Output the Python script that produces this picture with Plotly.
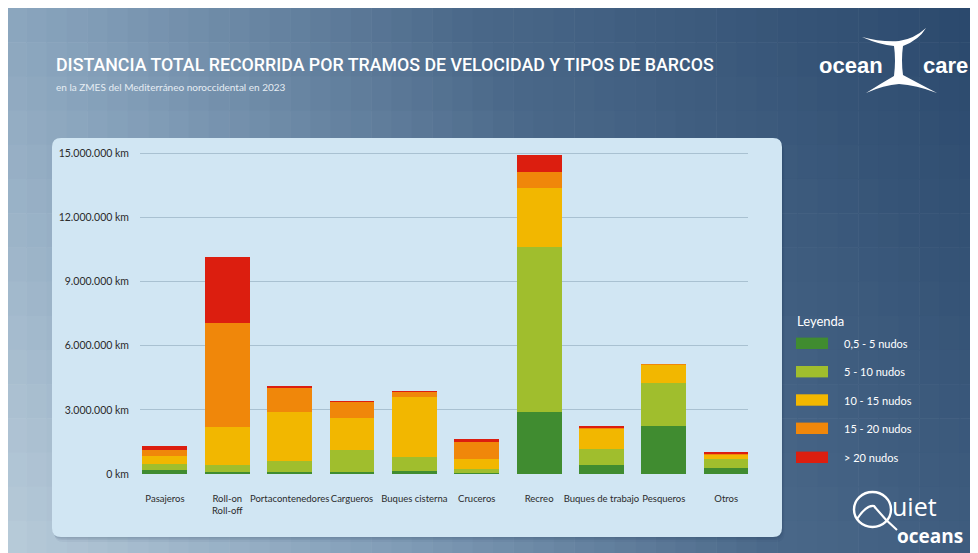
import plotly.graph_objects as go

# ---------------- data ----------------
categories = ["Pasajeros", "Roll-on<br>Roll-off", "Portacontenedores", "Cargueros",
              "Buques cisterna", "Cruceros", "Recreo", "Buques de trabajo",
              "Pesqueros", "Otros"]
v_05_5 = [170000, 80000, 90000, 80000, 140000, 50000, 2900000, 430000, 2260000, 260000]
v_5_10 = [300000, 360000, 530000, 1060000, 650000, 190000, 7710000, 750000, 2000000, 450000]
v_10_15 = [390000, 1740000, 2280000, 1480000, 2830000, 480000, 2760000, 930000, 860000, 200000]
v_15_20 = [250000, 4880000, 1140000, 760000, 220000, 760000, 760000, 60000, 10000, 50000]
v_20 = [220000, 3110000, 80000, 30000, 10000, 160000, 790000, 40000, 0, 90000]
series_names = ["0,5 - 5 nudos", "5 - 10 nudos", "10 - 15 nudos", "15 - 20 nudos", "> 20 nudos"]
series_colors = ["#408c30", "#a0be2d", "#f2b700", "#f0870a", "#dc1e0f"]
y_tickvals = [0, 3000000, 6000000, 9000000, 12000000, 15000000]
y_ticktext = ["0 km", "3.000.000 km", "6.000.000 km", "9.000.000 km", "12.000.000 km", "15.000.000 km"]

# ---------------- geometry helpers (page pixel coords -> paper) ----------------
OFF = 8  # body margin of the page
W, H = 970, 545
ML, MR, MT, MB = 132, 230, 142, 79
PW = W - ML - MR
PH = H - MT - MB


def px(x):
    return (x - OFF - ML) / PW


def py(y):
    return (H - MB - (y - OFF)) / PH


def P(points, close=True):
    s = ""
    for p in points:
        cmd = p[0]
        coords = p[1:]
        parts = []
        for k in range(0, len(coords), 2):
            parts.append("%.5f,%.5f" % (px(coords[k]), py(coords[k + 1])))
        s += cmd + " " + " ".join(parts) + " "
    return s + ("Z" if close else "")


fig = go.Figure()
series = [v_05_5, v_5_10, v_10_15, v_15_20, v_20]
for name, vals, col in zip(series_names, series, series_colors):
    fig.add_trace(go.Bar(x=categories, y=vals, name=name, marker_color=col,
                         marker_line_width=0, showlegend=False,
                         hovertemplate="%{x}<br>" + name + ": %{y:,.0f} km<extra></extra>"))

shapes = []

# gradient background (diagonal: light bottom-left -> dark top-right)
stops = [(0.0, (185, 204, 218)), (0.3, (130, 158, 184)), (0.6, (74, 104, 137)), (1.0, (42, 72, 108))]


def grad(t):
    t = max(0.0, min(1.0, t))
    for (t0, c0), (t1, c1) in zip(stops[:-1], stops[1:]):
        if t <= t1:
            f = (t - t0) / (t1 - t0)
            return "rgb(%d,%d,%d)" % tuple(round(a + (b - a) * f) for a, b in zip(c0, c1))
    return "rgb(%d,%d,%d)" % stops[-1][1]


BX0, BY0, BX1, BY1 = 6, 8, 980, 555
NC, NR = 48, 16
for i in range(NC):
    for j in range(NR):
        x0 = BX0 + (BX1 - BX0) * i / NC
        x1 = BX0 + (BX1 - BX0) * (i + 1) / NC
        y0 = BY0 + (BY1 - BY0) * j / NR
        y1 = BY0 + (BY1 - BY0) * (j + 1) / NR
        xc = (x0 + x1) / 2
        yc = (y0 + y1) / 2
        t = 0.75 * (xc - BX0) / (BX1 - BX0) + 0.25 * (BY1 - yc) / (BY1 - BY0)
        shapes.append(dict(type="rect", xref="paper", yref="paper", layer="below",
                           x0=px(x0), x1=px(x1 + 0.6), y0=py(y1 + 0.6), y1=py(y0),
                           fillcolor=grad(t), line_width=0))


def rounded(x0, y0, x1, y1, r):
    return P([("M", x0 + r, y0), ("L", x1 - r, y0), ("Q", x1, y0, x1, y0 + r),
              ("L", x1, y1 - r), ("Q", x1, y1, x1 - r, y1), ("L", x0 + r, y1),
              ("Q", x0, y1, x0, y1 - r), ("L", x0, y0 + r), ("Q", x0, y0, x0 + r, y0)])


# panel shadow + panel
for off, alpha in [(5, 0.05), (3, 0.07), (1.5, 0.09)]:
    shapes.append(dict(type="path", xref="paper", yref="paper", layer="below",
                       path=rounded(52 + off * 0.5, 138 + off, 782 + off * 0.5, 537 + off, 9),
                       fillcolor="rgba(20,40,70,%.2f)" % alpha, line_width=0))
shapes.append(dict(type="path", xref="paper", yref="paper", layer="below",
                   path=rounded(52, 138, 782, 537, 9),
                   fillcolor="#d1e6f3", line_width=0))

# legend swatches
leg_y = [343.3, 371.7, 400, 428.3, 457.3]
for yy, col in zip(leg_y, series_colors):
    shapes.append(dict(type="rect", xref="paper", yref="paper",
                       x0=px(796), x1=px(828), y0=py(yy + 5.7), y1=py(yy - 5.7),
                       fillcolor=col, line_width=0))

# ocean care tail logo
tail = P([("M", 862, 37), ("Q", 880, 45, 894, 46), ("Q", 896, 60, 894, 76),
          ("Q", 880, 84, 866, 93), ("Q", 884, 85, 899, 84), ("Q", 916, 85, 937, 93),
          ("Q", 916, 82, 903, 75), ("Q", 901, 60, 903, 46), ("Q", 919, 40, 926, 28),
          ("Q", 914, 39, 899, 41), ("Q", 880, 42, 862, 37)])
shapes.append(dict(type="path", xref="paper", yref="paper", path=tail,
                   fillcolor="white", line_width=0))

# quiet oceans logo
shapes.append(dict(type="circle", xref="paper", yref="paper",
                   x0=px(854), x1=px(891), y0=py(527), y1=py(492),
                   line=dict(color="white", width=2.4), fillcolor="rgba(0,0,0,0)"))
shapes.append(dict(type="path", xref="paper", yref="paper",
                   path=P([("M", 857, 519), ("Q", 866, 505, 874, 506),
                           ("Q", 884, 519, 897, 530)], close=False),
                   line=dict(color="white", width=2.2)))

annotations = []
annotations.append(dict(text="DISTANCIA TOTAL RECORRIDA POR TRAMOS DE VELOCIDAD Y TIPOS DE BARCOS",
                        x=px(54), y=py(65), xref="paper", yref="paper", xanchor="left",
                        yanchor="middle", showarrow=False,
                        font=dict(family="Roboto", size=17.8, color="white", weight=500)))
annotations.append(dict(text="en la ZMES del Mediterráneo noroccidental en 2023",
                        x=px(54), y=py(87), xref="paper", yref="paper", xanchor="left",
                        yanchor="middle", showarrow=False,
                        font=dict(family="Lato", size=10, color="#e6edf3")))
annotations.append(dict(text="Leyenda", x=px(795), y=py(321), xref="paper", yref="paper",
                        xanchor="left", yanchor="middle", showarrow=False,
                        font=dict(family="Lato", size=13, color="white")))
for yy, name in zip(leg_y, series_names):
    annotations.append(dict(text=name, x=px(842), y=py(yy), xref="paper", yref="paper",
                            xanchor="left", yanchor="middle", showarrow=False,
                            font=dict(family="Lato", size=11, color="white")))
annotations.append(dict(text="ocean", x=px(817), y=py(66), xref="paper", yref="paper",
                        xanchor="left", yanchor="middle", showarrow=False,
                        font=dict(family="Liberation Sans", size=22, color="white", weight="bold")))
annotations.append(dict(text="care", x=px(921), y=py(66), xref="paper", yref="paper",
                        xanchor="left", yanchor="middle", showarrow=False,
                        font=dict(family="Liberation Sans", size=22, color="white", weight="bold")))
annotations.append(dict(text="uiet", x=px(890), y=py(506), xref="paper", yref="paper",
                        xanchor="left", yanchor="middle", showarrow=False,
                        font=dict(family="Open Sans", size=25, color="white")))
annotations.append(dict(text="oceans", x=px(895), y=py(536), xref="paper", yref="paper",
                        xanchor="left", yanchor="middle", showarrow=False,
                        font=dict(family="Open Sans", size=19, color="white", weight="bold")))

fig.update_layout(
    width=W, height=H,
    margin=dict(l=ML, r=MR, t=MT, b=MB, pad=0),
    paper_bgcolor="white",
    plot_bgcolor="rgba(0,0,0,0)",
    barmode="stack",
    bargap=0.28,
    showlegend=False,
    shapes=shapes,
    annotations=annotations,
    font=dict(family="Lato", size=10, color="#2b2b2b"),
)
fig.update_xaxes(range=[-0.4, 9.35], showgrid=False, showline=False, zeroline=False,
                 ticks="", tickangle=0, ticklabelstandoff=17,
                 tickfont=dict(family="Lato", size=9.5, color="#2b2b2b"))
fig.update_yaxes(range=[0, 15150000], tickvals=y_tickvals, ticktext=y_ticktext,
                 showgrid=True, gridcolor="#a9c1d1", gridwidth=1, zeroline=False,
                 showline=False, ticks="", ticklabelstandoff=10,
                 tickfont=dict(family="Lato", size=10.5, color="#2b2b2b"))

fig.write_html("out.html")
